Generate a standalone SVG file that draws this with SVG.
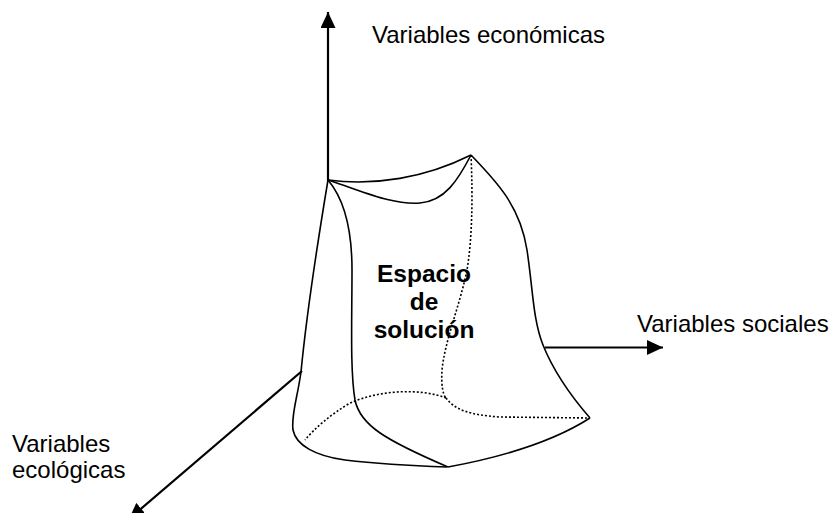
<svg xmlns="http://www.w3.org/2000/svg" width="831" height="513" viewBox="0 0 831 513">
<style>
.axis{fill:none;stroke:#000;stroke-width:2.2}
.edge{fill:none;stroke:#000;stroke-width:1.6}
.hidden{fill:none;stroke:#000;stroke-width:1.6;stroke-dasharray:2 2}
.lbl{font-family:"Liberation Sans",Arial,sans-serif;font-size:24px;fill:#000}
.title{font-family:"Liberation Sans",Arial,sans-serif;font-size:24.5px;font-weight:bold;fill:#000;text-anchor:middle}
</style>
<defs>
<marker id="arr" markerUnits="userSpaceOnUse" markerWidth="16" markerHeight="15" refX="16" refY="7.5" orient="auto">
<path d="M0,0 L16,7.5 L0,15 z" fill="#000"/>
</marker>
</defs>
<rect width="831" height="513" fill="#fff"/>
<g id="connectors">
<path class="axis" d="M328,181 L328,12" marker-end="url(#arr)"/>
<path class="axis" d="M545,347.5 L663,347.5" marker-end="url(#arr)"/>
<path class="axis" d="M302,371 L129,519" marker-end="url(#arr)"/>
</g>
<g id="solution-space">
<path class="edge" d="M328,180 C 375,186 425,178 471,155"/>
<path class="edge" d="M328,180 C 365,192 392,205 420,203 C 445,201 458,180 471,155"/>
<path class="edge" d="M328,180 C 318,240 306,320 301,372 C 297,400 291,415 293,430 C 296,445 315,456 345,460 C 380,464 420,466 447,467"/>
<path class="edge" d="M328,180 C 345,200 352,230 352,270 C 352,320 350,370 355,400 C 360,425 385,440 448,467"/>
<path class="edge" d="M471,155 C 495,180 520,205 527,250 C 533,290 533,320 543,345 C 553,370 570,395 590,418"/>
<path class="edge" d="M590,418 Q 540,450 448,467"/>
<path class="hidden" d="M471,155 C 473,200 472,240 467,270 C 460,305 445,340 442,370 C 441,385 443,395 446,398"/>
<path class="hidden" d="M446,398 C 455,410 470,415 500,417 L 590,418"/>
<path class="hidden" d="M446,398 C 420,388 380,390 350,403 C 330,415 315,428 305,440"/>
<text class="title" x="424" y="282">Espacio</text>
<text class="title" x="424" y="310">de</text>
<text class="title" x="424" y="338">solución</text>
</g>
<g id="label-economicas"><text class="lbl" x="372" y="43">Variables económicas</text></g>
<g id="label-sociales"><text class="lbl" x="637" y="332">Variables sociales</text></g>
<g id="label-ecologicas"><text class="lbl" x="12" y="452">Variables</text><text class="lbl" x="12" y="478">ecológicas</text></g>
</svg>
